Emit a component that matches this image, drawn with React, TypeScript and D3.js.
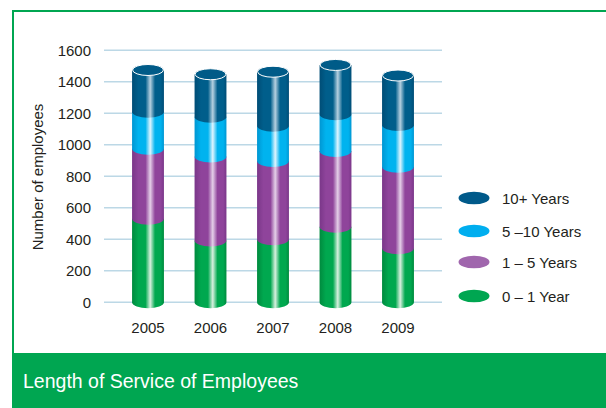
import React from "react";
import * as d3 from "d3";

const years = ["2005", "2006", "2007", "2008", "2009"];
const seriesNames = ["0 – 1 Year", "1 – 5 Years", "5 –10 Years", "10+ Years"];
const zeroToOne = [530, 393, 400, 480, 343];
const oneToFive = [445, 532, 497, 481, 518];
const fiveToTen = [235, 253, 224, 233, 265];
const tenPlus = [265, 270, 343, 313, 314];
const yTicks = [0, 200, 400, 600, 800, 1000, 1200, 1400, 1600];
const title = "Length of Service of Employees";
const yLabel = "Number of employees";

const palettes = [
  { dark: "#008a3e", base: "#00a84f", hi: "#d8f0df", legend: "#00a651" },
  { dark: "#7a3789", base: "#8f449b", hi: "#e4cfe8", legend: "#a066ad" },
  { dark: "#0096d2", base: "#00b3ef", hi: "#dff5ff", legend: "#00aeef" },
  { dark: "#004d76", base: "#005e8b", hi: "#b5d0e0", legend: "#005a8a" },
];

export default function App() {
  const W = 606, H = 408;
  const font = "'Liberation Sans', Arial, Helvetica, sans-serif";
  const y = d3.scaleLinear().domain([0, 1600]).range([302.3, 50.3]);
  const x = d3.scaleBand().domain(years).range([116.75, 429.25]).paddingInner(0.49).paddingOuter(0.245);
  const data = years.map((yr, i) => ({
    year: yr,
    v0: zeroToOne[i], v1: oneToFive[i], v2: fiveToTen[i], v3: tenPlus[i],
  }));
  const stack = d3.stack<any>().keys(["v0", "v1", "v2", "v3"])(data);
  const rx = x.bandwidth() / 2;
  const ry = 5.5;
  const legendOrder = [3, 2, 1, 0];
  const legendY = [198, 231, 262, 296];

  return (
    <div style={{ position: "fixed", left: 0, top: 0 }}>
      <svg width={W} height={H} style={{ display: "block", background: "#fff" }}>
        <defs>
          {palettes.map((p, k) => (
            <linearGradient key={k} id={`g${k}`} x1="0" x2="1" y1="0" y2="0">
              <stop offset="0" stopColor={p.dark} />
              <stop offset="0.2" stopColor={p.base} />
              <stop offset="0.42" stopColor={p.base} />
              <stop offset="0.57" stopColor={p.hi} />
              <stop offset="0.72" stopColor={p.base} />
              <stop offset="0.9" stopColor={p.base} />
              <stop offset="1" stopColor={p.dark} />
            </linearGradient>
          ))}
        </defs>
        {/* frame */}
        <line x1={12} x2={W} y1={11} y2={11} stroke="#00a651" strokeWidth={2} />
        <line x1={13} x2={13} y1={10} y2={H} stroke="#00a651" strokeWidth={2} />
        <rect x={12} y={353} width={W - 12} height={H - 353} fill="#00a651" />
        <text x={23} y={388} fill="#fff" fontFamily={font} fontSize={19.5}>{title}</text>

        {/* grid */}
        {yTicks.map((t) => (
          <g key={t}>
            <line x1={104} x2={442} y1={y(t)} y2={y(t)} stroke="#bcd8e6" strokeWidth={1.4} />
            <text x={91} y={y(t) + 5.5} textAnchor="end" fontFamily={font} fontSize={15} fill="#231f20">{t}</text>
          </g>
        ))}
        <text transform={`translate(43,177) rotate(-90)`} textAnchor="middle" fontFamily={font} fontSize={15} fill="#231f20">{yLabel}</text>

        {/* cylinders */}
        {years.map((yr, i) => {
          const x0 = x(yr)!;
          const x1 = x0 + x.bandwidth();
          const cx = x0 + rx;
          const topVal = stack[3][i][1];
          return (
            <g key={yr}>
              {stack.map((s, k) => {
                const yt = y(s[i][1]);
                const yb = y(s[i][0]);
                const d = `M${x0},${yt} L${x0},${yb} A${rx},${ry + 0.5} 0 0 0 ${x1},${yb} L${x1},${yt} Z`;
                return <path key={k} d={d} fill={`url(#g${k})`} />;
              })}
              <ellipse cx={cx} cy={y(topVal)} rx={rx - 0.5} ry={ry} fill="#005b88" stroke="#ffffff" strokeWidth={1} />
              <text x={cx} y={332.5} textAnchor="middle" fontFamily={font} fontSize={15} fill="#231f20">{yr}</text>
            </g>
          );
        })}

        {/* legend */}
        {legendOrder.map((k, j) => (
          <g key={k}>
            <ellipse cx={474} cy={legendY[j]} rx={15.5} ry={6.3} fill={palettes[k].legend} />
            <text x={502} y={legendY[j] + 5.5} fontFamily={font} fontSize={15} fill="#231f20">{seriesNames[k]}</text>
          </g>
        ))}
      </svg>
    </div>
  );
}
